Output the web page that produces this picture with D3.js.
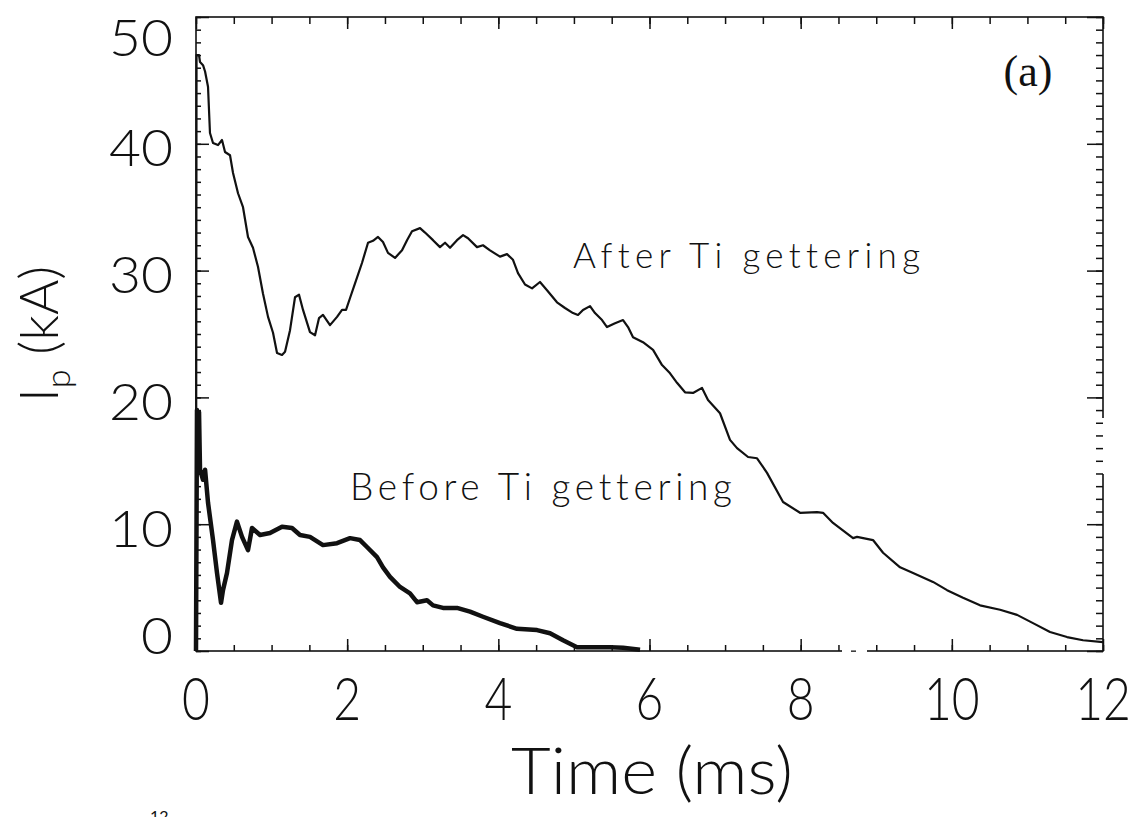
<!DOCTYPE html>
<html>
<head>
<meta charset="utf-8">
<script src="https://cdn.jsdelivr.net/npm/d3@7"></script>
<style>
  body { margin: 0; background: #fff; }
  svg { display: block; }
  text { font-variant-ligatures: none; font-feature-settings: "liga" 0, "clig" 0; }
</style>
</head>
<body>
<svg id="chart" width="1145" height="817"></svg>
<script>
// plasma current traces (time in ms, Ip in kA)
const tAfter = [0, 0.007, 0.04, 0.053, 0.093, 0.12, 0.159, 0.185, 0.225, 0.291, 0.344, 0.384, 0.45, 0.49, 0.556,
    0.622, 0.688, 0.754, 0.82, 0.886, 0.953, 1.019, 1.072, 1.138, 1.178, 1.244, 1.31, 1.363, 1.416, 1.508,
    1.575, 1.627, 1.68, 1.773, 1.866, 1.932, 1.985, 2.038, 2.104, 2.196, 2.276, 2.342, 2.408, 2.474, 2.54,
    2.633, 2.726, 2.792, 2.858, 2.964, 3.03, 3.136, 3.228, 3.295, 3.361, 3.453, 3.533, 3.599, 3.718, 3.797,
    3.89, 4.022, 4.115, 4.194, 4.26, 4.353, 4.446, 4.551, 4.644, 4.776, 4.882, 4.988, 5.054, 5.12, 5.213,
    5.279, 5.372, 5.438, 5.544, 5.65, 5.716, 5.782, 5.914, 6.047, 6.166, 6.272, 6.364, 6.47, 6.576, 6.695,
    6.774, 6.933, 7.065, 7.158, 7.304, 7.423, 7.555, 7.767, 7.992, 8.217, 8.296, 8.428, 8.693, 8.746, 8.957,
    9.09, 9.315, 9.487, 9.751, 9.937, 10.148, 10.373, 10.638, 10.863, 11.074, 11.299, 11.524, 11.736, 12.0];
const ipAfter = [0, 47.0, 47.0, 46.45, 46.2, 45.7, 44.5, 40.85, 40.06, 39.9, 40.3, 39.35, 39.1, 37.7, 36.1,
    35.0, 32.65, 31.8, 30.3, 28.2, 26.35, 25.1, 23.5, 23.35, 23.6, 25.3, 27.9, 28.1, 26.9, 25.15,
    24.9, 26.25, 26.5, 25.7, 26.35, 26.9, 26.9, 27.84, 29.0, 30.6, 32.2, 32.35, 32.65, 32.25, 31.4,
    31.0, 31.6, 32.4, 33.1, 33.35, 33.0, 32.4, 31.85, 32.2, 31.8, 32.4, 32.8, 32.55, 31.85, 32.0,
    31.6, 31.1, 31.3, 30.85, 29.8, 28.9, 28.6, 29.1, 28.45, 27.5, 27.05, 26.65, 26.5, 26.9, 27.2,
    26.65, 26.1, 25.55, 25.85, 26.1, 25.55, 24.75, 24.35, 23.75, 22.55, 21.9, 21.15, 20.4, 20.35, 20.75,
    19.8, 18.75, 16.65, 16.0, 15.3, 15.2, 14.05, 11.75, 10.9, 10.95, 10.9, 10.1, 8.9, 9.0, 8.75,
    7.75, 6.6, 6.15, 5.45, 4.8, 4.2, 3.6, 3.25, 2.85, 2.2, 1.5, 1.1, 0.85, 0.7];

const tBefore = [0, 0.013, 0.026, 0.04, 0.053, 0.093, 0.12, 0.159, 0.225, 0.278, 0.331, 0.357, 0.41, 0.476,
    0.542, 0.609, 0.688, 0.741, 0.847, 0.979, 1.138, 1.27, 1.376, 1.508, 1.68, 1.866, 2.038, 2.17, 2.262,
    2.395, 2.474, 2.567, 2.699, 2.831, 2.924, 3.056, 3.136, 3.268, 3.453, 3.625, 3.797, 4.022, 4.247, 4.512,
    4.684, 4.856, 5.041, 5.253, 5.478, 5.65, 5.875];
const ipBefore = [0, 19.0, 16.65, 18.85, 14.3, 13.5, 14.3, 11.7, 8.75, 6.15, 3.8, 4.8, 6.15, 8.75,
    10.2, 9.0, 7.95, 9.7, 9.15, 9.3, 9.8, 9.7, 9.15, 9.0, 8.35, 8.5, 8.9, 8.75, 8.2,
    7.4, 6.6, 5.85, 5.05, 4.55, 3.85, 4.0, 3.6, 3.4, 3.4, 3.1, 2.7, 2.2, 1.75, 1.65,
    1.4, 0.85, 0.3, 0.3, 0.3, 0.25, 0.1];

const xMajor = [0, 2, 4, 6, 8, 10, 12];
const xMinor = d3.range(0, 12.01, 0.5);
const yMajor = [0, 10, 20, 30, 40, 50];
const yMinor = d3.range(0, 50.01, 1);

const svg = d3.select("#chart");
const plot = { left: 196, right: 1103, top: 17, bottom: 651 };

const x = d3.scaleLinear().domain([0, 12]).range([plot.left, plot.right]);
const y = d3.scaleLinear().domain([0, 50]).range([plot.bottom, plot.top]);

const ink = "#111";
const thinFont = "Lato, 'DejaVu Sans', sans-serif";
const thinWeight = 300;

// frame
svg.append("rect")
    .attr("x", plot.left).attr("y", plot.top)
    .attr("width", plot.right - plot.left).attr("height", plot.bottom - plot.top)
    .attr("fill", "none").attr("stroke", ink).attr("stroke-width", 1.6);

// scan dropouts on the frame
svg.append("rect").attr("x", 842).attr("y", plot.bottom - 2).attr("width", 25).attr("height", 4).attr("fill", "#fff");
svg.append("rect").attr("x", 851).attr("y", plot.bottom - 0.5).attr("width", 5).attr("height", 1.3).attr("fill", ink);
svg.append("rect").attr("x", plot.right - 2).attr("y", 418).attr("width", 4).attr("height", 56).attr("fill", "#fff");

// ticks on all four sides, pointing inward
function ticks(axisFn, pos, values, size) {
    const g = svg.append("g")
        .attr("transform", pos)
        .call(axisFn.tickValues(values).tickSize(-size).tickSizeOuter(0).tickFormat(""));
    g.select(".domain").remove();
    g.selectAll("line").attr("stroke", ink).attr("stroke-width", 1.5);
}
ticks(d3.axisBottom(x), `translate(0,${plot.bottom})`, xMinor, 6);
ticks(d3.axisBottom(x), `translate(0,${plot.bottom})`, xMajor, 12);
ticks(d3.axisTop(x), `translate(0,${plot.top})`, xMinor, 7);
ticks(d3.axisTop(x), `translate(0,${plot.top})`, xMajor, 12);
ticks(d3.axisLeft(y), `translate(${plot.left},0)`, yMinor, 5);
ticks(d3.axisLeft(y), `translate(${plot.left},0)`, yMajor, 13);
ticks(d3.axisRight(y), `translate(${plot.right},0)`, yMinor, 7);
ticks(d3.axisRight(y), `translate(${plot.right},0)`, yMajor, 16);

// tick labels
svg.append("g").selectAll("text")
    .data(xMajor)
    .join("text")
    .attr("transform", d => `translate(${x(d)},720) scale(0.8,1)`)
    .attr("text-anchor", "middle")
    .style("font-family", thinFont).style("font-weight", thinWeight).style("font-size", "60px")
    .attr("fill", ink)
    .text(d => d);

svg.append("g").selectAll("text")
    .data(yMajor)
    .join("text")
    .attr("x", 173)
    .attr("y", d => Math.max(plot.top + 20, Math.min(plot.bottom - 16, y(d) + 4)) + 18.5)
    .attr("text-anchor", "end")
    .attr("textLength", d => String(d).length * 32)
    .attr("lengthAdjust", "spacingAndGlyphs")
    .style("font-family", thinFont).style("font-weight", thinWeight).style("font-size", "51px")
    .attr("fill", ink)
    .text(d => d);

// axis titles
svg.append("text")
    .attr("x", 652).attr("y", 794)
    .attr("text-anchor", "middle")
    .attr("textLength", 282).attr("lengthAdjust", "spacingAndGlyphs")
    .style("font-family", thinFont).style("font-weight", thinWeight).style("font-size", "65px")
    .attr("fill", ink)
    .text("Time (ms)");

const yTitle = svg.append("text")
    .attr("transform", "translate(58,334) rotate(-90)")
    .attr("text-anchor", "middle")
    .style("font-family", thinFont).style("font-weight", thinWeight).style("font-size", "54px")
    .attr("fill", ink);
yTitle.append("tspan").text("I");
yTitle.append("tspan").attr("dy", 12).style("font-size", "34px").text("p");
yTitle.append("tspan").attr("dy", -12).text(" (kA)");

// traces
const line = d3.line().x(d => x(d[0])).y(d => y(d[1]));
svg.append("path")
    .datum(d3.zip(tAfter, ipAfter))
    .attr("d", line)
    .attr("fill", "none").attr("stroke", ink).attr("stroke-width", 2.2).attr("stroke-linejoin", "round");
svg.append("path")
    .datum(d3.zip(tBefore, ipBefore))
    .attr("d", line)
    .attr("fill", "none").attr("stroke", ink).attr("stroke-width", 4.5).attr("stroke-linejoin", "round");

// annotations
svg.append("text")
    .attr("x", 573).attr("y", 268)
    .attr("textLength", 347).attr("lengthAdjust", "spacing")
    .style("font-family", thinFont).style("font-weight", thinWeight).style("font-size", "35px")
    .attr("fill", ink)
    .text("After Ti gettering");
svg.append("text")
    .attr("x", 350).attr("y", 500)
    .attr("textLength", 382).attr("lengthAdjust", "spacing")
    .style("font-family", thinFont).style("font-weight", thinWeight).style("font-size", "37px")
    .attr("fill", ink)
    .text("Before Ti gettering");
svg.append("text")
    .attr("x", 1028).attr("y", 86)
    .attr("text-anchor", "middle")
    .style("font-family", "'Liberation Serif', serif").style("font-size", "44px")
    .attr("fill", ink)
    .text("(a)");

// page number fragment cut by the scan edge
svg.append("text")
    .attr("x", 150).attr("y", 822)
    .style("font-family", thinFont).style("font-size", "16px")
    .attr("fill", ink)
    .text("12");
</script>
</body>
</html>
